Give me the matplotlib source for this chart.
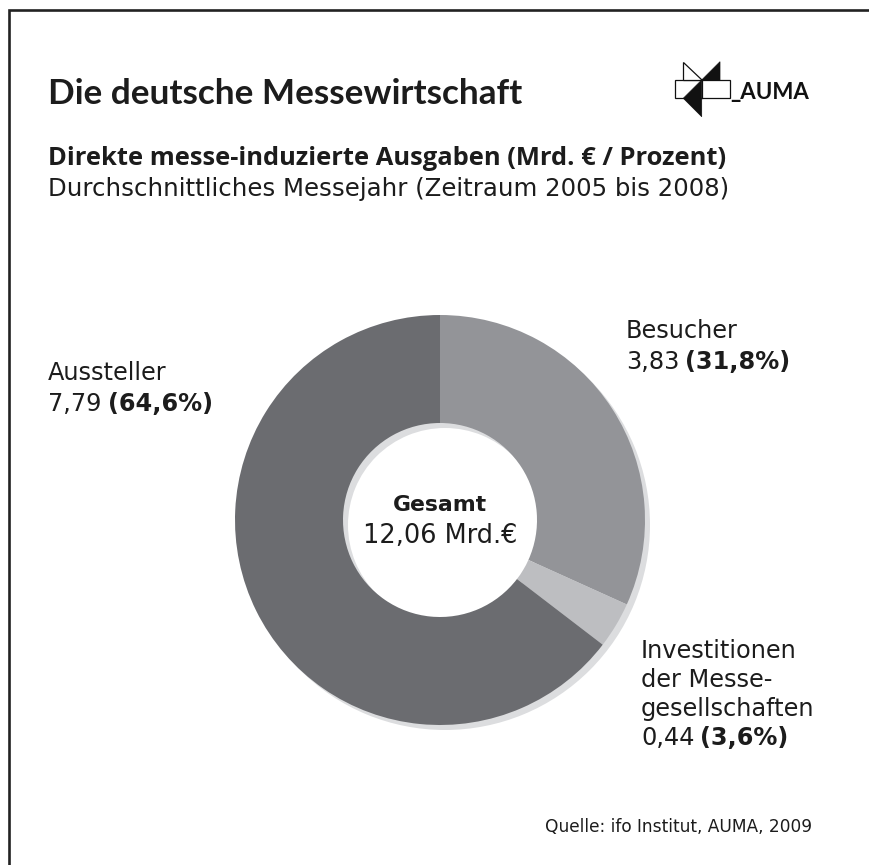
import matplotlib.pyplot as plt
from matplotlib.patches import Wedge, Polygon, Rectangle

W, H = 870, 865
INK = '#1c1c1c'

# --- data ---
categories = ['Besucher', 'Investitionen', 'Aussteller']
values = [3.83, 0.44, 7.79]          # Mrd. Euro
percents = [31.8, 3.6, 64.6]
total = 12.06
colors = ['#939498', '#bdbec1', '#6b6c70']

plt.rcParams['font.family'] = ['DejaVu Sans']


def Y(y):
    # pixel rows from the top -> data y
    return H - y


def fmt(v):
    return f"{v:.2f}".replace('.', ',')


def pct(p):
    return f"({p:.1f}%)".replace('.', ',')


fig = plt.figure(figsize=(W / 100, H / 100), dpi=100)
ax = fig.add_axes([0, 0, 1, 1])
renderer = fig.canvas.get_renderer()


def fit(t, width):
    # scale a text so it spans the given pixel width
    w = t.get_window_extent(renderer).width
    t.set_fontsize(t.get_fontsize() * width / w)
    return t


# --- donut with soft shadow ---
cx, cy, r, ring = 440, 520, 205, 108
ax.add_patch(Wedge((cx + 5, Y(cy + 5)), r, 0, 360, width=ring,
                   facecolor='#dcdddf', edgecolor='none'))
ax.pie(values, colors=colors, startangle=90, counterclock=False,
       radius=r, center=(cx, Y(cy)),
       wedgeprops=dict(width=ring, linewidth=0))
ax.set_xlim(0, W)
ax.set_ylim(0, H)
ax.set_aspect('equal')
ax.axis('off')

# frame: only left and top edge are inside the picture
ax.plot([9, 9, W + 10], [-10, Y(10), Y(10)], color='#222222', lw=1.9,
        solid_joinstyle='miter')

# --- header ---
fit(ax.text(48, Y(104), 'Die deutsche Messewirtschaft', fontsize=24,
            family='Lato', fontweight='bold', color=INK, va='baseline'), 474)
fit(ax.text(48, Y(165), 'Direkte messe-induzierte Ausgaben (Mrd. € / Prozent)',
            fontsize=16, family='Open Sans', fontweight='bold', color=INK,
            va='baseline'), 678)
fit(ax.text(48, Y(196), 'Durchschnittliches Messejahr (Zeitraum 2005 bis 2008)',
            fontsize=16, color=INK, va='baseline'), 680)

# logo
logo_k = '#111111'
ax.add_patch(Rectangle((675, Y(98.3)), 55, 18.3, fill=False,
                       edgecolor=logo_k, linewidth=0.9))
ax.plot([702, 702], [Y(80), Y(98.3)], color=logo_k, lw=0.9)
ax.add_patch(Polygon([(683.3, Y(61.7)), (683.3, Y(80)), (701.7, Y(80))],
                     closed=True, facecolor='white', edgecolor=logo_k, lw=0.9))
ax.add_patch(Polygon([(701.7, Y(80)), (720, Y(61.7)), (720, Y(80))],
                     closed=True, facecolor=logo_k, edgecolor=logo_k, lw=0.5))
ax.add_patch(Polygon([(701.7, Y(80)), (683.3, Y(98.3)), (701.7, Y(116.7))],
                     closed=True, facecolor=logo_k, edgecolor=logo_k, lw=0.5))
ax.text(730, Y(98.5), '_AUMA', fontsize=16, family='Lato', fontweight='bold',
        color=logo_k, va='baseline')

# --- segment labels ---
LS = 17.3


def value_line(x, y, v, p, size=LS):
    t = ax.text(x, Y(y), fmt(v), fontsize=size, color=INK, va='baseline')
    ax.annotate(pct(p), xy=(1, 0), xycoords=t, xytext=(6, 0),
                textcoords='offset pixels', fontsize=size, fontweight='bold',
                color=INK, va='bottom', ha='left')


ax.text(626, Y(338), categories[0], fontsize=LS, color=INK, va='baseline')
value_line(626, 369, values[0], percents[0])

inv_lines = ['Investitionen', 'der Messe-', 'gesellschaften']
for i, line in enumerate(inv_lines):
    ax.text(641, Y(658 + 29 * i), line, fontsize=LS, color=INK, va='baseline')
value_line(641, 745, values[1], percents[1])

ax.text(48, Y(380), categories[2], fontsize=LS, color=INK, va='baseline')
value_line(48, 411, values[2], percents[2])

# centre
fit(ax.text(cx, Y(511), 'Gesamt', fontsize=16, fontweight='bold', color=INK,
            ha='center', va='baseline'), 94)
fit(ax.text(cx, Y(543), f"{fmt(total)} Mrd.€", fontsize=17, color=INK,
            ha='center', va='baseline'), 154)

# source
fit(ax.text(812, Y(832), 'Quelle: ifo Institut, AUMA, 2009', fontsize=13,
            color=INK, ha='right', va='baseline'), 268)

plt.savefig('out.png', dpi=100)
